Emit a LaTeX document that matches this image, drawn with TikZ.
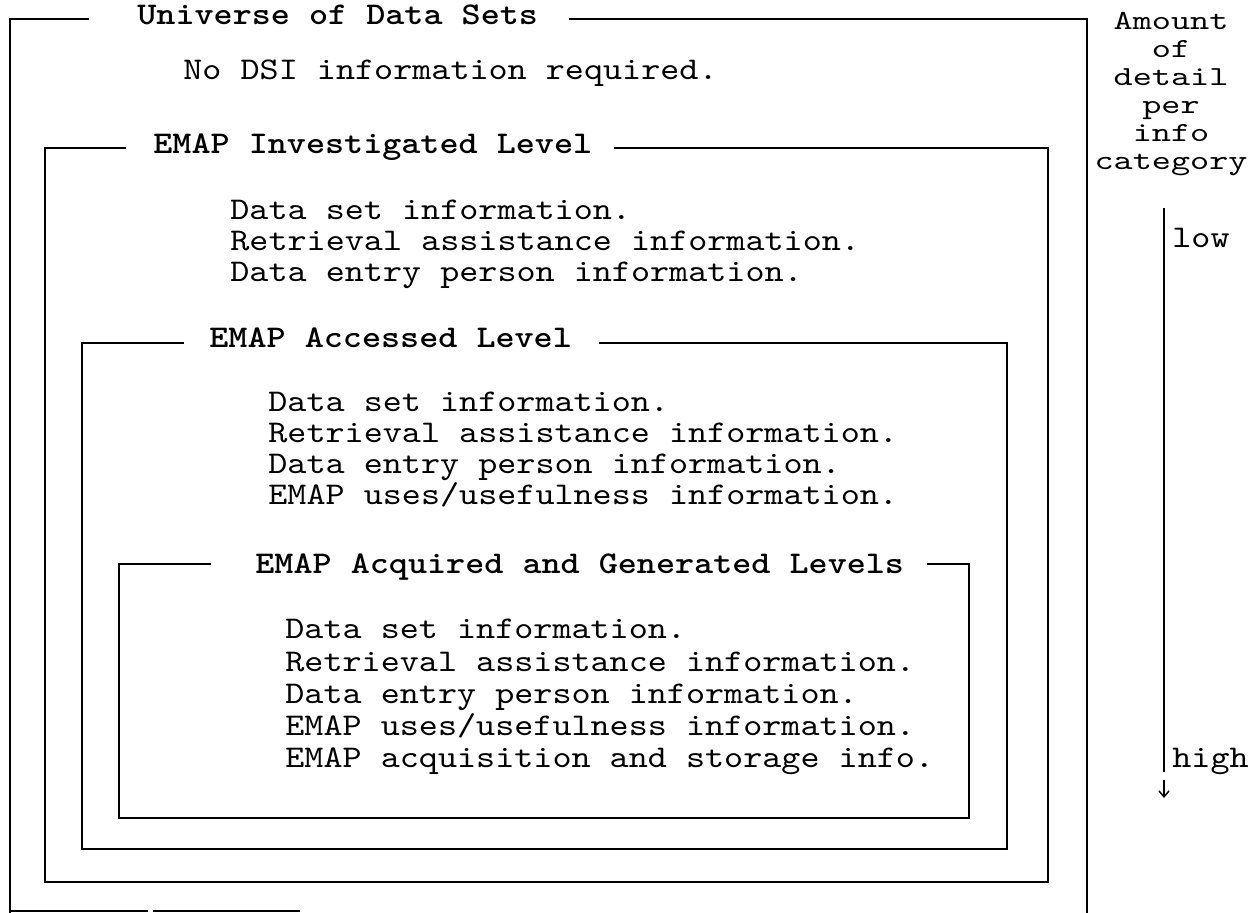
\documentclass[tikz,border=0pt]{standalone}
\usepackage{fontspec}
\setmonofont{lmmono10-regular}[Extension=.otf,FakeStretch=1.15,BoldFont=lmmonolt10-bold]
\newfontfamily\sidefont{lmmono10-regular}[Extension=.otf,FakeStretch=1.32]
\usetikzlibrary{arrows.meta}
\begin{document}
\begin{tikzpicture}[x=0.5pt,y=-0.5pt,
  frame/.style={line width=0.9pt,line cap=rect},
  ttl/.style={font=\ttfamily\fontsize{15.8}{13.6}\selectfont\bfseries,inner sep=0pt,anchor=base west},
  body/.style={font=\ttfamily\fontsize{15.8}{13.6}\selectfont,inner sep=0pt,anchor=base west},
  side/.style={font=\sidefont\fontsize{13.8}{14}\selectfont,inner sep=0pt,anchor=north,align=center}]
\useasboundingbox (0,0) rectangle (1257,913);
% outer box: Universe of Data Sets
\node[ttl] (uni) at (137,25) {Universe of Data Sets};
\node[body] (nodsi) at (183,80) {No DSI information required.};
\draw[frame] (88,19) -- (10,19) -- (10,912);
\draw[frame] (570,19) -- (1087,19) -- (1087,913);
\draw[frame] (10,911) -- (147,911);
\draw[line width=0.6pt] (153,911) -- (300,911);
% EMAP Investigated Level
\node[ttl] (inv) at (153,154) {EMAP Investigated Level};
\draw[frame] (125,148) -- (45,148) -- (45,882) -- (1048,882) -- (1048,148) -- (615,148);
\node[body] (i1) at (230,220) {Data set information.};
\node[body] (i2) at (230,251) {Retrieval assistance information.};
\node[body] (i3) at (230,282) {Data entry person information.};
% EMAP Accessed Level
\node[ttl] (acc) at (209,348) {EMAP Accessed Level};
\draw[frame] (183,343) -- (82,343) -- (82,849) -- (1007,849) -- (1007,343) -- (600,343);
\node[body] (a1) at (268,412) {Data set information.};
\node[body] (a2) at (268,443) {Retrieval assistance information.};
\node[body] (a3) at (268,474) {Data entry person information.};
\node[body] (a4) at (268,505) {EMAP uses/usefulness information.};
% EMAP Acquired and Generated Levels
\node[ttl] (acq) at (255,574) {EMAP Acquired and Generated Levels};
\draw[frame] (210,564) -- (119,564) -- (119,818) -- (969,818) -- (969,564) -- (928,564);
\node[body] (g1) at (285,639) {Data set information.};
\node[body] (g2) at (285,671) {Retrieval assistance information.};
\node[body] (g3) at (285,703) {Data entry person information.};
\node[body] (g4) at (285,735) {EMAP uses/usefulness information.};
\node[body] (g5) at (285,767) {EMAP acquisition and storage info.};
% side annotation
\node[side] (amount) at (1171,12) {Amount\\of\\detail\\per\\info\\category};
\node[body] (low) at (1172,248) {low};
\node[body] (high) at (1172,767) {high};
\coordinate (atop) at (1164,208);
\coordinate (abot) at (1164,772);
\draw[line width=0.9pt] (atop) -- (abot);
\coordinate (t1) at (1164,780);
\coordinate (t2) at (1164,798);
\draw[line width=0.7pt,-{Straight Barb[length=3pt,width=5pt]}] (t1) -- (t2);
\end{tikzpicture}
\end{document}
